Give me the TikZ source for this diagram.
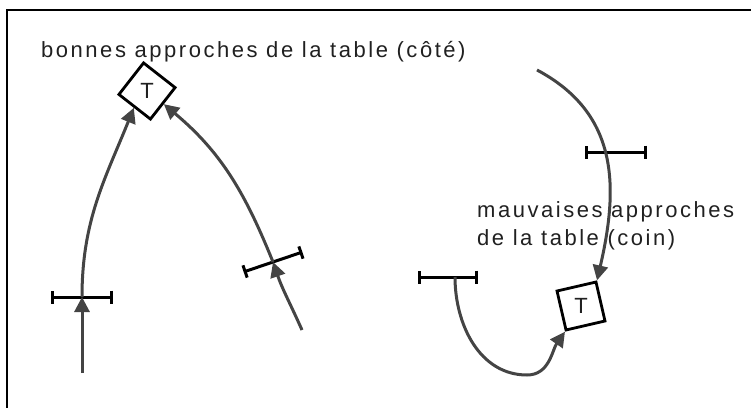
\documentclass[tikz,border=0pt]{standalone}
\usepackage{fontspec}
\usepackage{graphicx}
\setmainfont{Liberation Sans}[LetterSpace=11.5]
\newfontfamily\tablefont{Liberation Sans}
\usetikzlibrary{arrows.meta,calc}
\definecolor{planInk}{HTML}{202020}
\definecolor{pathGrey}{HTML}{444444}

\begin{document}
\begin{tikzpicture}[
  x=1pt, y=1pt,
  font=\fontsize{22}{28}\selectfont,
  tablebox/.style={draw=black, line width=2.8pt, minimum size=40pt, inner sep=0pt, fill=white, font=\tablefont\fontsize{22}{22}\selectfont, text=planInk},
  caption/.style={anchor=base west, inner sep=0pt, text=planInk},
  route/.style={-{Triangle[length=15pt, width=15pt]}, line width=3pt, draw=pathGrey},
  gate/.style={{Bar[width=13pt]}-{Bar[width=13pt]}, line width=3pt, draw=black},
  frame/.style={line width=1.2pt, draw=black}
]
  \useasboundingbox (0,0) rectangle (751,408);
  \draw[frame] (751,398) -- (7,398) -- (7,0);

  \node[caption] (goodText) at (41,351) {bonnes approches de la table (côté)};
  \node[caption] (badText) at (477,191) {\begin{tabular}[t]{@{}l@{}}mauvaises approches\\de la table (coin)\end{tabular}};
  \node[tablebox, rotate=52] (sideTable) at (147,317) {\rotatebox{-52}{T}};
  \node[tablebox, rotate=13] (cornerTable) at (581,102) {\rotatebox{-13}{T}};

  \coordinate (startA) at (82,35);
  \coordinate (gateA) at (82,111);
  \coordinate (startB) at (302,78);
  \coordinate (gateB) at (273,146);
  \coordinate (startC) at (537,338);
  \coordinate (gateC) at (616,256);
  \coordinate (gateD) at (448,131);
  \coordinate (startD) at (455,131);
  \coordinate (loopD) at (527,33);

  % door gates
  \draw[gate] ($(gateA)+(-31,0)$) -- ($(gateA)+(31,0)$);
  \draw[gate] ($(gateB)+(198.7:31)$) -- ($(gateB)+(18.7:31)$);
  \draw[gate] ($(gateC)+(-31,0)$) -- ($(gateC)+(31,0)$);
  \draw[gate] ($(gateD)+(-30,0)$) -- ($(gateD)+(30,0)$);

  % approaches to the side
  \draw[route] (startA) -- (gateA);
  \draw[route] (gateA) to[out=90, in=-112] (sideTable.west);
  \draw[route] (startB) to[out=114, in=-71] (gateB);
  \draw[route] (gateB) to[out=112, in=-40] (sideTable.south);

  % approaches to the corner
  \draw[route] (startC) to[out=-28, in=77, looseness=1.1] (cornerTable.north east);
  \draw[route] (startD) to[out=-90, in=180] (loopD) to[out=0, in=-125] (cornerTable.south west);
\end{tikzpicture}
\end{document}
